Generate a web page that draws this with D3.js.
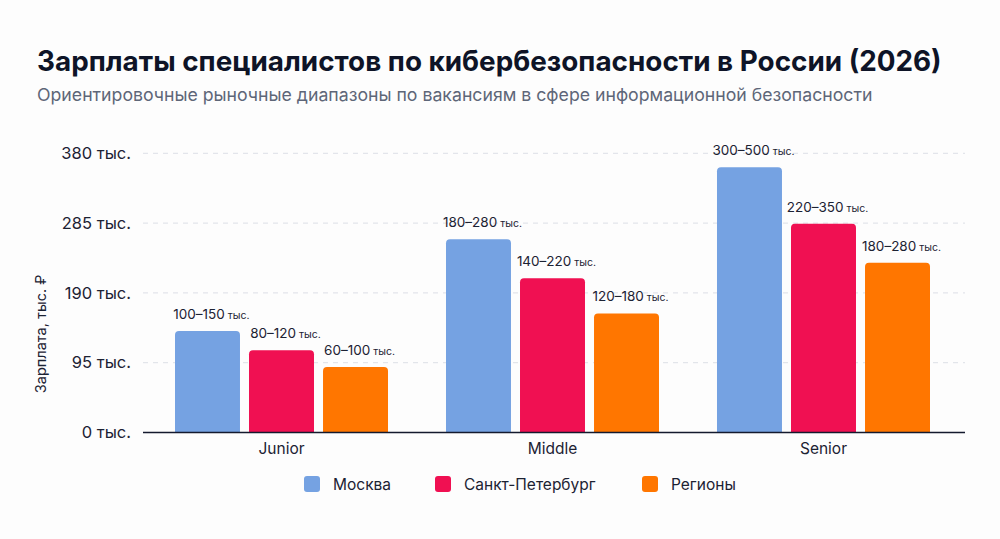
<!DOCTYPE html>
<html>
<head>
<meta charset="utf-8">
<script src="https://cdn.jsdelivr.net/npm/d3@7"></script>
<style>
  html, body { margin: 0; padding: 0; background: #fdfdfd; }
  svg { display: block; }
</style>
</head>
<body>
<div id="container"></div>
<script>
const categories = ['Junior', 'Middle', 'Senior'];
const series = ['Москва', 'Санкт-Петербург', 'Регионы'];
const moscow = [138, 263, 361];
const spb = [112, 210, 284];
const regions = [89, 162, 231];
const moscowRange = ['100–150', '180–280', '300–500'];
const spbRange = ['80–120', '140–220', '220–350'];
const regionsRange = ['60–100', '120–180', '180–280'];
const yTicks = [0, 95, 190, 285, 380];

const values = [moscow, spb, regions];
const ranges = [moscowRange, spbRange, regionsRange];
const colors = ['#75a2e2', '#f01052', '#ff7600'];

const W = 1000, H = 539;
const font = 'Inter, "Noto Sans", sans-serif';

const svg = d3.select('#container').append('svg')
  .attr('width', W).attr('height', H)
  .style('font-family', font);

svg.append('rect').attr('width', W).attr('height', H).attr('fill', '#fdfdfd');

const rows = [];
categories.forEach((c, ci) => {
  series.forEach((s, si) => {
    rows.push({ cat: c, ser: s, si, value: values[si][ci], label: ranges[si][ci] });
  });
});

const x0 = d3.scaleBand().domain(categories).range([175, 930]).paddingInner(0.214);
const x1 = d3.scaleBand().domain(series).range([0, x0.bandwidth()]).paddingInner(0.122);
const y = d3.scaleLinear().domain([0, 380]).range([432.5, 153.3]);

// fit a text element to a width
function fit(sel, width) {
  const node = sel.node();
  const size = parseFloat(sel.attr('font-size'));
  const len = node.getComputedTextLength();
  sel.attr('font-size', size * width / len);
}

// title
const title = svg.append('text')
  .attr('x', 37).attr('y', 71)
  .attr('font-size', 28).attr('font-weight', 700)
  .attr('fill', '#0e1427')
  .text('Зарплаты специалистов по кибербезопасности в России (2026)');
fit(title, 905);

const subtitle = svg.append('text')
  .attr('x', 37).attr('y', 101)
  .attr('font-size', 18)
  .attr('fill', '#5e6678')
  .text('Ориентировочные рыночные диапазоны по вакансиям в сфере информационной безопасности');
fit(subtitle, 836);

// grid
svg.append('g')
  .selectAll('line')
  .data(yTicks.filter(d => d > 0))
  .join('line')
  .attr('x1', 143).attr('x2', 965)
  .attr('y1', d => y(d)).attr('y2', d => y(d))
  .attr('stroke', '#dcdfe6')
  .attr('stroke-width', 1)
  .attr('stroke-dasharray', '5,5');

// y axis
const yAxis = d3.axisLeft(y)
  .tickValues(yTicks)
  .tickSize(0)
  .tickPadding(0)
  .tickFormat(d => `${d} тыс.`);

svg.append('g')
  .attr('transform', 'translate(131,0)')
  .call(yAxis)
  .call(g => g.select('.domain').remove())
  .call(g => g.selectAll('text')
    .attr('font-size', 16.5)
    .attr('font-family', font)
    .attr('fill', '#1c2233'));

svg.append('text')
  .attr('transform', `translate(46,${(y(0) + y(380)) / 2 + 41}) rotate(-90)`)
  .attr('text-anchor', 'middle')
  .attr('font-size', 14.5)
  .attr('fill', '#1c2233')
  .text('Зарплата, тыс. ₽');

// bars with rounded top
const r = 4;
function barPath(d) {
  const x = x0(d.cat) + x1(d.ser);
  const w = x1.bandwidth();
  const top = y(d.value);
  const bot = y(0);
  return `M${x},${bot}V${top + r}Q${x},${top} ${x + r},${top}H${x + w - r}Q${x + w},${top} ${x + w},${top + r}V${bot}Z`;
}

svg.append('g')
  .selectAll('path')
  .data(rows)
  .join('path')
  .attr('d', barPath)
  .attr('fill', d => colors[d.si]);

// labels
const labels = svg.append('g')
  .selectAll('text')
  .data(rows)
  .join('text')
  .attr('x', d => x0(d.cat) + x1(d.ser) + x1.bandwidth() / 2 + 4)
  .attr('y', d => y(d.value) - 12)
  .attr('text-anchor', 'middle')
  .attr('font-size', 13.5)
  .attr('fill', '#1c2233');
labels.append('tspan').text(d => d.label);
labels.append('tspan').attr('font-size', 10.5).text(' тыс.');

// x axis
svg.append('line')
  .attr('x1', 143).attr('x2', 965)
  .attr('y1', y(0)).attr('y2', y(0))
  .attr('stroke', '#141a2e')
  .attr('stroke-width', 1.6);

svg.append('g')
  .selectAll('text')
  .data(categories)
  .join('text')
  .attr('x', d => x0(d) + x0.bandwidth() / 2)
  .attr('y', 454)
  .attr('text-anchor', 'middle')
  .attr('font-size', 15.5)
  .attr('fill', '#1c2233')
  .text(d => d);

// legend
const legendX = [304, 435, 642];
const legend = svg.append('g')
  .selectAll('g')
  .data(series)
  .join('g')
  .attr('transform', (d, i) => `translate(${legendX[i]},476)`);
legend.append('rect')
  .attr('width', 16).attr('height', 16).attr('rx', 3)
  .attr('fill', (d, i) => colors[i]);
legend.append('text')
  .attr('x', 29).attr('y', 13.5)
  .attr('font-size', 15.5)
  .attr('fill', '#1c2233')
  .text(d => d);
</script>
</body>
</html>
